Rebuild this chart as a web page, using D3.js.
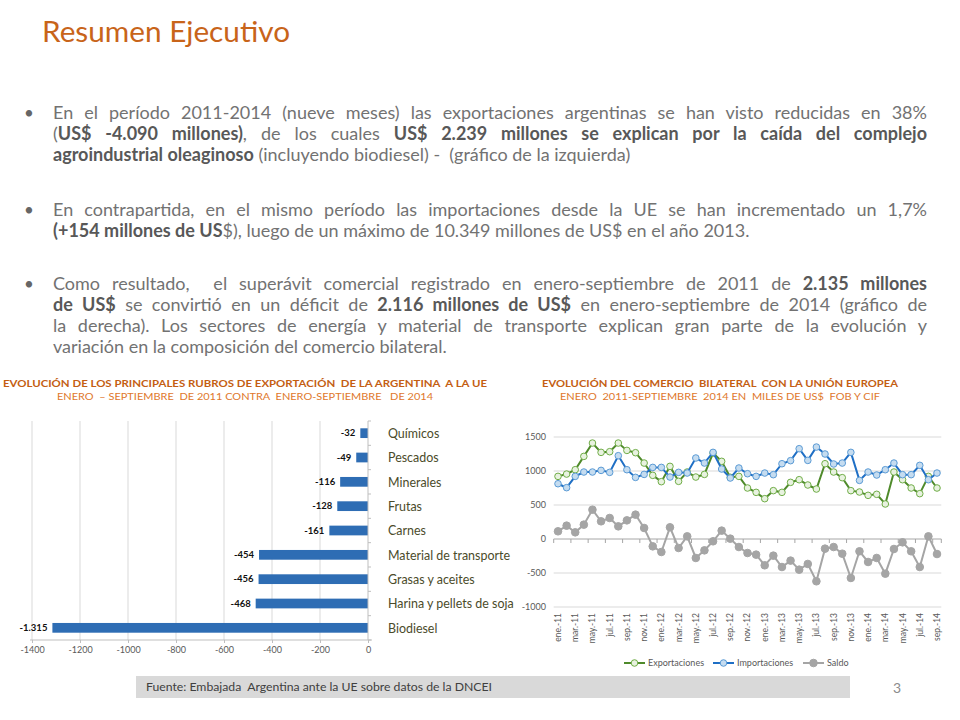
<!DOCTYPE html>
<html>
<head>
<meta charset="utf-8">
<script src="https://cdn.jsdelivr.net/npm/d3@7"></script>
<style>
  body { margin: 0; background: #fff; }
  svg text { font-family: Lato, "Open Sans", sans-serif; white-space: pre; }
</style>
</head>
<body>
<svg id="slide" width="960" height="720"></svg>
<script>
// ---- datos: rubros de exportacion (variacion 2011 vs 2014, millones US$)
var rubros = ["Químicos", "Pescados", "Minerales", "Frutas", "Carnes",
              "Material de transporte", "Grasas y aceites", "Harina y pellets de soja", "Biodiesel"];
var variacion = [-32, -49, -116, -128, -161, -454, -456, -468, -1315];
var ticksRubros = [-1400, -1200, -1000, -800, -600, -400, -200, 0];

// ---- datos: comercio bilateral mensual (miles de US$)
var meses = ["ene.-11","feb.-11","mar.-11","abr.-11","may.-11","jun.-11","jul.-11","ago.-11","sep.-11","oct.-11","nov.-11","dic.-11",
             "ene.-12","feb.-12","mar.-12","abr.-12","may.-12","jun.-12","jul.-12","ago.-12","sep.-12","oct.-12","nov.-12","dic.-12",
             "ene.-13","feb.-13","mar.-13","abr.-13","may.-13","jun.-13","jul.-13","ago.-13","sep.-13","oct.-13","nov.-13","dic.-13",
             "ene.-14","feb.-14","mar.-14","abr.-14","may.-14","jun.-14","jul.-14","ago.-14","sep.-14"];
var exportaciones = [921, 955, 1019, 1215, 1411, 1274, 1284, 1411, 1303, 1269, 1117, 936,
                     843, 1068, 848, 985, 911, 950, 1264, 1142, 907, 921, 750, 686,
                     593, 711, 686, 833, 872, 794, 735, 1107, 985, 902, 711, 691,
                     642, 657, 515, 985, 872, 750, 667, 921, 750];
var importaciones = [813, 755, 921, 985, 985, 1009, 980, 1225, 1019, 906, 950, 1053,
                     1053, 911, 980, 970, 1191, 1117, 1274, 1029, 897, 1044, 960, 921,
                     970, 946, 1107, 1152, 1328, 1156, 1352, 1250, 1103, 1117, 1274, 862,
                     985, 941, 1019, 1117, 946, 946, 1083, 872, 970];
var saldo = [113, 196, 98, 211, 431, 260, 309, 186, 274, 358, 162, -108,
             -191, 172, -132, 39, -279, -167, -34, 123, 5, -118, -206, -230,
             -387, -245, -412, -318, -451, -367, -622, -142, -118, -216, -573, -181,
             -338, -279, -510, -147, -49, -181, -412, 39, -221];
var ticksComercio = [-1000, -500, 0, 500, 1000, 1500];

var es = d3.formatLocale({decimal: ",", thousands: ".", grouping: [3], currency: ["", ""], minus: "-"});
var fmt = es.format(",d");

var svg = d3.select("#slide");

function fit(sel, w) {
  sel.each(function() {
    var n = this.getComputedTextLength();
    if (Math.abs(n - w) > 1) d3.select(this).attr("textLength", w).attr("lengthAdjust", "spacingAndGlyphs");
  });
}

// ---- titulo
svg.append("text")
  .attr("x", 42).attr("y", 42)
  .attr("fill", "#c8641a")
  .style("font-size", "28px")
  .text("Resumen Ejecutivo")
  .call(fit, 248);

// ---- texto con vinetas
var parrafos = [
  {y: 119, lineas: [
    [["En el período 2011-2014 (nueve meses) las exportaciones argentinas se han visto reducidas en 38%", 0]],
    [["(", 0], ["US$ -4.090 millones)", 1], [", de los cuales ", 0], ["US$ 2.239 millones se explican por la caída del complejo", 1]],
    [["agroindustrial oleaginoso", 1], [" (incluyendo biodiesel) -  (gráfico de la izquierda)", 0]]
  ]},
  {y: 216, lineas: [
    [["En contrapartida, en el mismo período las importaciones desde la UE se han incrementado un 1,7%", 0]],
    [["(+154 millones de US", 1], ["$), luego de un máximo de 10.349 millones de US$ en el año 2013.", 0]]
  ]},
  {y: 290, lineas: [
    [["Como resultado,  el superávit comercial registrado en enero-septiembre de 2011 de ", 0], ["2.135 millones", 1]],
    [["de US$", 1], [" se convirtió en un déficit de ", 0], ["2.116 millones de US$", 1], [" en enero-septiembre de 2014 (gráfico de", 0]],
    [["la derecha). Los sectores de energía y material de transporte explican gran parte de la evolución y", 0]],
    [["variación en la composición del comercio bilateral.", 0]]
  ]}
];

parrafos.forEach(function(p) {
  svg.append("text")
    .attr("x", 24).attr("y", p.y)
    .attr("fill", "#666")
    .style("font-size", "17px")
    .text("•");
  p.lineas.forEach(function(l, i) {
    var t = svg.append("text")
      .attr("x", 53).attr("y", p.y + i * 21)
      .style("font-size", "18px");
    t.selectAll("tspan").data(l).join("tspan")
      .attr("fill", function(d) { return d[1] ? "#585858" : "#727272"; })
      .style("font-weight", function(d) { return d[1] ? "bold" : "normal"; })
      .text(function(d) { return d[0]; });
    // justificado excepto la ultima linea
    if (i < p.lineas.length - 1) {
      var node = t.node();
      var n = node.getComputedTextLength();
      var spaces = (node.textContent.match(/ /g) || []).length;
      t.style("word-spacing", ((874 - n) / spaces) + "px");
    }
  });
});

// ---- titulos de los graficos
function tituloGrafico(cx, l1, w1, l2, w2) {
  svg.append("text").attr("x", cx).attr("y", 387)
    .attr("text-anchor", "middle").attr("fill", "#c45e12")
    .style("font-size", "10px").style("font-weight", "bold")
    .text(l1).call(fit, w1);
  svg.append("text").attr("x", cx).attr("y", 399.5)
    .attr("text-anchor", "middle").attr("fill", "#e0782c")
    .style("font-size", "10px")
    .text(l2).call(fit, w2);
}
tituloGrafico(245, "EVOLUCIÓN DE LOS PRINCIPALES RUBROS DE EXPORTACIÓN  DE LA ARGENTINA  A LA UE", 484,
              "ENERO  – SEPTIEMBRE  DE 2011 CONTRA  ENERO-SEPTIEMBRE   DE 2014", 376);
tituloGrafico(720, "EVOLUCIÓN DEL COMERCIO  BILATERAL  CON LA UNIÓN EUROPEA", 356,
              "ENERO  2011-SEPTIEMBRE  2014 EN  MILES DE US$  FOB Y CIF", 320);

// ---- grafico izquierdo: barras horizontales
var xE = d3.scaleLinear().domain([-1400, 0]).range([32, 368]);
var yE = d3.scaleBand().domain(rubros).range([421, 640]).paddingInner(0.6).paddingOuter(0.3);

var gE = svg.append("g");
gE.selectAll("line.grid").data(ticksRubros.filter(function(d) { return d < 0; })).join("line")
  .attr("class", "grid")
  .attr("x1", function(d) { return xE(d); }).attr("x2", function(d) { return xE(d); })
  .attr("y1", yE.range()[0]).attr("y2", yE.range()[1])
  .attr("stroke", "#d9d9d9");

gE.selectAll("rect").data(variacion).join("rect")
  .attr("x", function(d) { return xE(d); })
  .attr("y", function(d, i) { return yE(rubros[i]); })
  .attr("width", function(d) { return xE(0) - xE(d); })
  .attr("height", yE.bandwidth())
  .attr("fill", "#2e6db4");

gE.selectAll("text.val").data(variacion).join("text")
  .attr("class", "val")
  .attr("x", function(d) { return xE(d) - 5; })
  .attr("y", function(d, i) { return yE(rubros[i]) + yE.bandwidth() / 2; })
  .attr("dy", "0.35em")
  .attr("text-anchor", "end")
  .attr("fill", "#111")
  .style("font-size", "9.5px").style("font-weight", "bold")
  .text(function(d) { return fmt(d); });

var cats = gE.selectAll("text.cat").data(rubros).join("text")
  .attr("class", "cat")
  .attr("x", xE(0) + 20)
  .attr("y", function(d) { return yE(d) + yE.bandwidth() / 2; })
  .attr("dy", "0.36em")
  .attr("fill", "#4b4b2a")
  .style("font-size", "13.5px")
  .text(function(d) { return d; });
// escala comun: "Material de transporte" ocupa 122px en el original
var factor = 122 / cats.filter(function(d) { return d === "Material de transporte"; }).node().getComputedTextLength();
cats.each(function() {
  d3.select(this).attr("textLength", this.getComputedTextLength() * factor).attr("lengthAdjust", "spacingAndGlyphs");
});

// eje de categorias
var bordes = rubros.map(function(d) { return yE(d) - yE.step() * yE.paddingInner() / 2; });
bordes.push(yE.range()[1]);
gE.append("line")
  .attr("x1", xE(0)).attr("x2", xE(0))
  .attr("y1", yE.range()[0]).attr("y2", yE.range()[1])
  .attr("stroke", "#bfbfbf");
gE.selectAll("line.tk").data(bordes).join("line")
  .attr("class", "tk")
  .attr("x1", xE(0)).attr("x2", xE(0) + 3)
  .attr("y1", function(d) { return d; }).attr("y2", function(d) { return d; })
  .attr("stroke", "#bfbfbf");

var axE = gE.append("g")
  .attr("transform", "translate(0," + yE.range()[1] + ")")
  .call(d3.axisBottom(xE).tickValues(ticksRubros).tickSize(3).tickSizeOuter(0).tickPadding(4)
    .tickFormat(es.format("d")));
axE.select(".domain").attr("stroke", "#bfbfbf").attr("d", "M30,0H372");
axE.selectAll(".tick line").attr("stroke", "#bfbfbf");
axE.selectAll(".tick text").attr("fill", "#595959").style("font-size", "9px").style("font-family", "Lato, sans-serif");

// ---- grafico derecho: lineas
var xC = d3.scalePoint().domain(meses).range([558, 937]);
var yC = d3.scaleLinear().domain([-1000, 1500]).range([607, 437]);
var paso = xC.step();
var x0 = xC(meses[0]) - paso / 2, x1 = xC(meses[meses.length - 1]) + paso / 2;

var gC = svg.append("g");
gC.selectAll("line.grid").data(ticksComercio).join("line")
  .attr("class", "grid")
  .attr("x1", x0).attr("x2", x1)
  .attr("y1", function(d) { return yC(d); }).attr("y2", function(d) { return yC(d); })
  .attr("stroke", function(d) { return d === 0 ? "#a6a6a6" : "#d9d9d9"; });

var marcas = meses.filter(function(d, i) { return i % 2 === 0; }).map(function(d) { return xC(d) - paso / 2; });
marcas.push(x1);
gC.selectAll("line.tk").data(marcas).join("line")
  .attr("class", "tk")
  .attr("x1", function(d) { return d; }).attr("x2", function(d) { return d; })
  .attr("y1", yC(0)).attr("y2", yC(0) + 4)
  .attr("stroke", "#a6a6a6");

gC.selectAll("text.ylab").data(ticksComercio).join("text")
  .attr("class", "ylab")
  .attr("x", 546).attr("y", function(d) { return yC(d); })
  .attr("dy", "0.35em").attr("text-anchor", "end")
  .attr("fill", "#595959").style("font-size", "9px")
  .text(function(d) { return d; });

gC.selectAll("text.xlab").data(meses.filter(function(d, i) { return i % 2 === 0; })).join("text")
  .attr("class", "xlab")
  .attr("transform", function(d) { return "translate(" + xC(d) + ",613) rotate(-90)"; })
  .attr("dy", "0.35em").attr("text-anchor", "end")
  .attr("fill", "#595959").style("font-size", "8.5px")
  .text(function(d) { return d; });

var series = [
  {nombre: "Exportaciones", valores: exportaciones, linea: "#4f8a2b", borde: "#70ad47", relleno: "#e8f2e0", r: 3.3},
  {nombre: "Importaciones", valores: importaciones, linea: "#1f6fc5", borde: "#5b9bd5", relleno: "#c5dcf0", r: 3.3},
  {nombre: "Saldo", valores: saldo, linea: "#a5a5a5", borde: "#a5a5a5", relleno: "#a5a5a5", r: 3.8}
];

var linea = d3.line()
  .x(function(d, i) { return xC(meses[i]); })
  .y(function(d) { return yC(d); });

series.forEach(function(s) {
  var g = gC.append("g");
  g.append("path").attr("d", linea(s.valores))
    .attr("fill", "none").attr("stroke", s.linea).attr("stroke-width", 2);
  g.selectAll("circle").data(s.valores).join("circle")
    .attr("cx", function(d, i) { return xC(meses[i]); })
    .attr("cy", function(d) { return yC(d); })
    .attr("r", s.r)
    .attr("fill", s.relleno).attr("stroke", s.borde).attr("stroke-width", 1);
});

// leyenda
var leyX = [624, 713, 803];
var ley = gC.selectAll("g.ley").data(series).join("g")
  .attr("class", "ley")
  .attr("transform", function(d, i) { return "translate(" + leyX[i] + ",663)"; });
ley.append("line").attr("x1", 0).attr("x2", 21)
  .attr("stroke", function(d) { return d.linea; }).attr("stroke-width", 2);
ley.append("circle").attr("cx", 10.5).attr("r", function(d) { return d.r; })
  .attr("fill", function(d) { return d.relleno; }).attr("stroke", function(d) { return d.borde; });
ley.append("text").attr("x", 24).attr("dy", "0.35em")
  .attr("fill", "#595959").style("font-size", "9px")
  .text(function(d) { return d.nombre; });

// ---- pie
svg.append("rect").attr("x", 136).attr("y", 676).attr("width", 714).attr("height", 22).attr("fill", "#d9d9d9");
svg.append("text").attr("x", 146).attr("y", 691)
  .attr("fill", "#404040").style("font-size", "10.5px")
  .text("Fuente: Embajada  Argentina ante la UE sobre datos de la DNCEI").call(fit, 346);
svg.append("text").attr("x", 897).attr("y", 693).attr("text-anchor", "middle")
  .attr("fill", "#8c8c8c").style("font-size", "14px").text("3");
</script>
</body>
</html>
